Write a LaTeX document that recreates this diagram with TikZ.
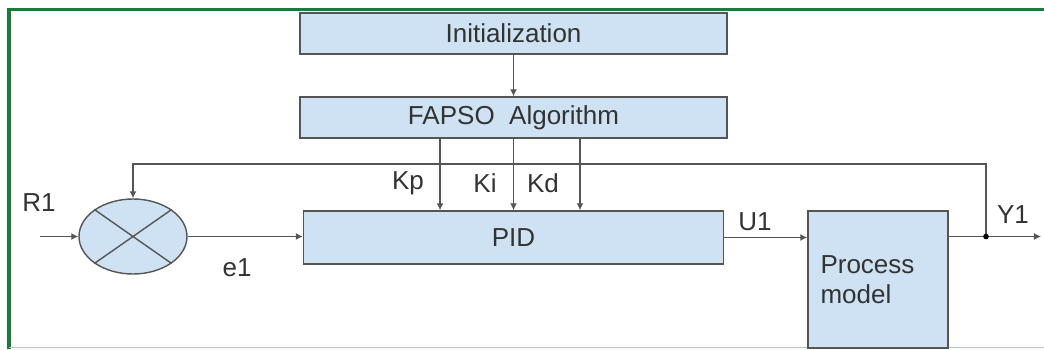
\documentclass[tikz,border=0pt]{standalone}
\usepackage{fontspec}
\setmainfont{Liberation Sans}
\usetikzlibrary{shapes.geometric,arrows.meta}
\definecolor{boxfill}{HTML}{CFE2F3}
\definecolor{boxline}{HTML}{555555}
\definecolor{frame}{HTML}{1B7A3C}
\definecolor{lightframe}{HTML}{A3D3AE}
\definecolor{txt}{HTML}{333333}
\begin{document}
\begin{tikzpicture}[>={Latex[length=4pt,width=4pt]},
  every node/.style={text=txt, font=\fontsize{14.8pt}{16.8pt}\selectfont},
  block/.style={rectangle, draw=boxline, fill=boxfill, line width=0.8pt, inner sep=0pt}]
\useasboundingbox (0,0) rectangle (20.88,6.98);
% frame
\draw[frame, line width=2.2pt] (0.18,0) -- (0.18,6.79) -- (20.88,6.79);
\draw[lightframe, line width=0.6pt] (0.18,0.03) -- (20.88,0.03);
\begin{scope}[every node/.append style=block]
\node[minimum width=8.54cm, minimum height=0.82cm] (Init) at (10.27, 6.31) {Initialization};
\node[minimum width=8.54cm, minimum height=0.82cm] (FAPSO) at (10.27, 4.63) {FAPSO\ \ Algorithm};
\node[minimum width=8.4cm, minimum height=1.06cm] (PID) at (10.27, 2.23) {PID};
\node[ellipse, minimum width=2.16cm, minimum height=1.5cm] (Sum) at (2.66, 2.25) {};
\node[minimum width=2.8cm, minimum height=2.74cm, text width=2.3cm, align=left] (PM) at (17.56, 1.39) {Process\\model};
\end{scope}
\draw[boxline, line width=0.8pt] (Sum.north west) -- (Sum.south east) (Sum.north east) -- (Sum.south west);
\coordinate (In) at (0.8, 2.25);
\coordinate (Tap) at (19.72, 2.25);
\coordinate (Out) at (20.82, 2.25);
\begin{scope}[every edge/.style = {draw=boxline, line width=0.7pt, ->}]
\path (Init) edge (FAPSO);
\path ([xshift=-1.47cm]FAPSO.south) edge ([xshift=-1.47cm]FAPSO.south |- PID.north);
\path (FAPSO.south) edge (FAPSO.south |- PID.north);
\path ([xshift=1.33cm]FAPSO.south) edge ([xshift=1.33cm]FAPSO.south |- PID.north);
\path (In) edge (Sum);
\path (Sum.east) edge (Sum.east -| PID.west);
\path (PID.east) edge (PID.east -| PM.west);
\path (PM.east |- Tap) edge[-] (Tap);
\path (Tap) edge (Out);
\end{scope}
\draw[boxline, line width=0.7pt, ->] (Tap) -- ++(0,1.45) -| (Sum.north);
\fill[black] (Tap) circle (1.6pt);
% labels
\node (R1) at (0.78, 2.92) {R1};
\node (e1) at (4.74, 1.62) {e1};
\node (Kp) at (8.16, 3.32) {Kp};
\node (Ki) at (9.70, 3.32) {Ki};
\node (Kd) at (10.86, 3.32) {Kd};
\node (U1) at (15.10, 2.54) {U1};
\node (Y1) at (20.26, 2.68) {Y1};
\end{tikzpicture}
\end{document}
